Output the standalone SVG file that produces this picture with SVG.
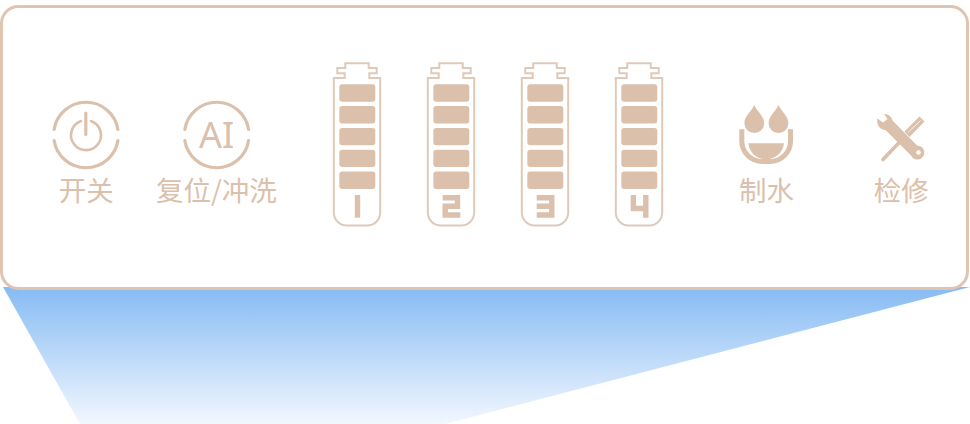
<svg xmlns="http://www.w3.org/2000/svg" width="970" height="424" viewBox="0 0 970 424">
<style>
.ring{fill:none;stroke:#dbc0ab;stroke-width:3.2;stroke-linecap:round}
.lbl{font-family:"Noto Sans CJK SC","Noto Sans",sans-serif;font-size:27.5px;font-weight:400;fill:#dbc0ab;text-anchor:middle}
.bar{fill:#dbc0ab}
.shell{fill:none;stroke:#dfc9b8;stroke-width:2}
.num{fill:none;stroke:#dbc0ab;stroke-width:5.4}
</style>
<defs>
<linearGradient id="beam" x1="0" y1="0" x2="0" y2="1"><stop offset="0" stop-color="#86bbf3"/><stop offset="1" stop-color="#f2f7fe"/></linearGradient>
<g id="battery">
<path class="shell" d="M333.8 78H344.7V73.3H337.3V68H345.3V63.3H368.7V68H376.7V73.3H369.3V78H380.2V212.5A13 13 0 0 1 367.2 225.5H346.8A13 13 0 0 1 333.8 212.5Z"/>
<rect class="bar" x="339.3" y="84.3" width="36" height="17.4" rx="3"/>
<rect class="bar" x="339.3" y="106" width="36" height="17.4" rx="3"/>
<rect class="bar" x="339.3" y="127.9" width="36" height="17.4" rx="3"/>
<rect class="bar" x="339.3" y="149.7" width="36" height="17.4" rx="3"/>
<rect class="bar" x="339.3" y="171.6" width="36" height="17.4" rx="3"/>
</g>
</defs>
<rect width="970" height="424" fill="#fff"/>
<polygon points="3,287 970,287 445,424 80,424" fill="url(#beam)"/>
<g id="panel"><rect x="1.5" y="6.5" width="966" height="282" rx="17" fill="#fff" stroke="#e0c4b1" stroke-width="3"/></g>
<g id="power">
<path class="ring" d="M54.1 129.5A32.3 32.3 0 0 1 117.9 129.5M54.1 140.5A32.3 32.3 0 0 0 117.9 140.5"/>
<path class="ring" style="stroke-width:2.6" d="M81 121A15 15 0 1 0 91 121"/>
<path class="ring" d="M85.8 113V134.5"/>
<text class="lbl" x="86.3" y="201">开关</text>
</g>
<g id="ai">
<path class="ring" d="M184.8 129.5A32.3 32.3 0 0 1 248.6 129.5M184.8 140.5A32.3 32.3 0 0 0 248.6 140.5"/>
<text x="216.7" y="148" font-family="'Noto Sans','Liberation Sans',sans-serif" font-size="36" fill="#dbc0ab" text-anchor="middle">AI</text>
<text class="lbl" x="216.4" y="201">复位/冲洗</text>
</g>
<g id="battery1"><use href="#battery"/><path class="num" d="M357.5 195V217.7"/></g>
<g id="battery2"><use href="#battery" x="94"/><path class="num" d="M442.7 197.7H457.5V206.3H445.2V215H460.3"/></g>
<g id="battery3"><use href="#battery" x="188"/><path class="num" d="M536.7 197.7H551.8V215H536.7M536.7 206.3H551.8"/></g>
<g id="battery4"><use href="#battery" x="282"/><path class="num" d="M633.4 195V208.5H645.8M645.8 195V217.7"/></g>
<g id="water">
<path fill="#dbc0ab" d="M754.3 105C757 111.5 764.2 116 764.2 123.2A9.9 9.9 0 0 1 744.4 123.2C744.4 116 751.6 111.5 754.3 105Z"/>
<path fill="#dbc0ab" d="M778.5 105C781.2 111.5 788.4 116 788.4 123.2A9.9 9.9 0 0 1 768.6 123.2C768.6 116 775.8 111.5 778.5 105Z"/>
<path fill="none" stroke="#dbc0ab" stroke-width="5" d="M741.8 129.3V141A20.5 20.5 0 0 0 762.3 161.5H770A20.5 20.5 0 0 0 790.5 141V129.3"/>
<path fill="#dbc0ab" d="M748.3 143.3H784C783 152 776 159.3 766 159.3S749.3 152 748.3 143.3Z"/>
<text class="lbl" x="766.5" y="201">制水</text>
</g>
<g id="tools">
<path stroke="#dbc0ab" stroke-width="3.6" stroke-linecap="round" d="M883 159.5L903.5 138"/>
<polygon points="919.5,116.5 924.5,121.5 909.5,137 904.5,131.5" fill="#dbc0ab"/>
<path stroke="#fff" stroke-width="1" opacity=".8" d="M908 132.5L920.5 120.5"/>
<path fill="#dbc0ab" d="M884 114C888.5 114 891.5 116.5 892.5 120.5L917 145.5A7 7 0 1 1 911 155.5L885.5 130C879.5 130 876 124 877.5 118.5L883 122.5L887.5 119Z"/>
<circle cx="918.5" cy="152.5" r="2.3" fill="#fff"/>
<text class="lbl" x="901.3" y="201">检修</text>
</g>
</svg>
